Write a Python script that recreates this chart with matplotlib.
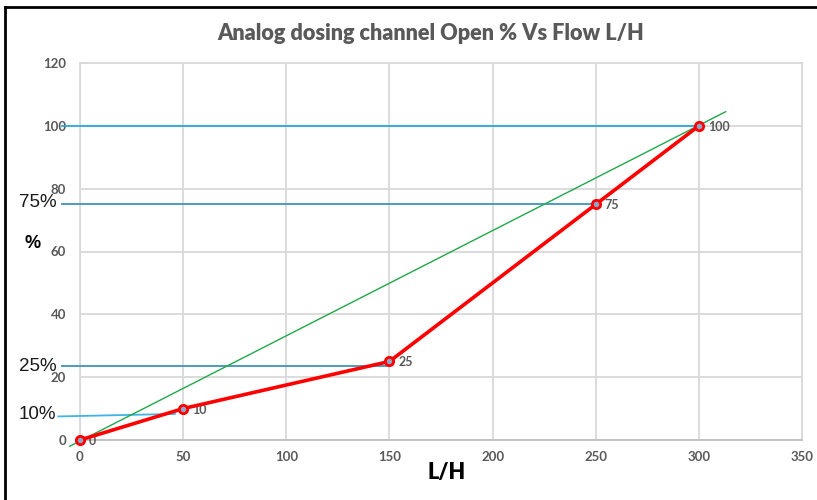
import matplotlib
matplotlib.use("Agg")
import matplotlib.pyplot as plt
from matplotlib.lines import Line2D

# Flow (L/H) against channel opening (%)
flow = [0, 50, 150, 250, 300]
opening = [0, 10, 25, 75, 100]

# Straight reference line from origin towards the 100% point
ref_x = [-5, 313]
ref_y = [-2, 104.5]

# Horizontal guide lines at the marked openings: (x pair, y pair)
guide_100 = ([-8.5, 300], [100, 100])
guide_75 = ([-8.5, 250], [75, 75])
guide_25 = ([-8.5, 149], [23.4, 23.4])
guide_10 = ([-10.5, 46], [7.5, 8.3])

side_labels = ["75%", "25%", "10%"]
side_label_y = [75.5, 23.3, 8.0]

x_ticks = [0, 50, 100, 150, 200, 250, 300, 350]
y_ticks = [0, 20, 40, 60, 80, 100, 120]

BODY = ["Lato", "DejaVu Sans"]
ARIAL = ["Liberation Sans", "DejaVu Sans"]
GRAY = "#595959"

fig = plt.figure(figsize=(8.17, 5.0), dpi=100)
ax = fig.add_axes([80 / 817, 1 - 440 / 500, (802 - 80) / 817, (440 - 63) / 500])
ax.set_xlim(0, 350)
ax.set_ylim(0, 120)
ax.set_xticks(x_ticks)
ax.set_yticks(y_ticks)
ax.grid(True, color="#d9d9d9", linewidth=1.3)
ax.set_axisbelow(True)
ax.tick_params(length=0, pad=10, labelsize=9.5, labelcolor=GRAY)
ax.tick_params(axis="x", pad=8)
plt.setp(ax.get_xticklabels() + ax.get_yticklabels(),
         family=BODY, fontweight="bold")
for side in ["top", "right", "left"]:
    ax.spines[side].set_color("#d9d9d9")
    ax.spines[side].set_linewidth(1.3)
ax.spines["bottom"].set_color("#bfbfbf")
ax.spines["bottom"].set_linewidth(1.3)

# Guide lines
ax.plot(*guide_100, color="#29a8e0", linewidth=1.3, clip_on=False, zorder=3)
ax.plot(*guide_75, color="#3f94bc", linewidth=1.3, clip_on=False, zorder=3)
ax.plot(*guide_25, color="#3f94bc", linewidth=1.3, clip_on=False, zorder=3)
ax.plot(*guide_10, color="#3fb4e6", linewidth=1.3, clip_on=False, zorder=3)

# Reference line
ax.plot(ref_x, ref_y, color="#21a84a", linewidth=1.0, clip_on=False, zorder=4)

# Main curve
ax.plot(flow, opening, color="#ff0000", linewidth=2.6, marker="o", markersize=6,
        markerfacecolor="#8aa8c8", markeredgecolor="#ff0000", markeredgewidth=2,
        clip_on=False, zorder=5)
for x, y in zip(flow, opening):
    ax.annotate(str(y), (x, y), xytext=(9, -1), textcoords="offset pixels",
                ha="left", va="center", fontsize=9, fontweight="bold",
                color=GRAY, family=BODY)

# Side labels
for txt, y in zip(side_labels, side_label_y):
    ax.annotate(txt, (0, y), xycoords=("axes fraction", "data"),
                xytext=(-61, 0), textcoords="offset pixels",
                ha="left", va="center", fontsize=13.5, color="#1a1a1a",
                family=ARIAL, annotation_clip=False)
ax.annotate("%", (0, 62.5), xycoords=("axes fraction", "data"),
            xytext=(-47, 0), textcoords="offset pixels",
            ha="center", va="center", fontsize=13, fontweight="bold",
            color="black", family=ARIAL, annotation_clip=False)

fig.text(447 / 817, 1 - 473 / 500, "L/H", ha="center", va="center",
         fontsize=15.5, fontweight="heavy", family=BODY, color="black")
fig.text(0.527, 0.933, "Analog dosing channel Open % Vs Flow L/H",
         ha="center", va="center", fontsize=15.6, fontweight="heavy",
         color=GRAY, family=BODY)

# Frame edges along the top and left of the figure
fig.add_artist(Line2D([4.5 / 817, 1.0], [1 - 6.5 / 500, 1 - 6.5 / 500],
                      transform=fig.transFigure, color="black", linewidth=2))
fig.add_artist(Line2D([4.5 / 817, 4.5 / 817], [0, 1 - 6.5 / 500],
                      transform=fig.transFigure, color="black", linewidth=2))

fig.savefig("out.png", dpi=100)
